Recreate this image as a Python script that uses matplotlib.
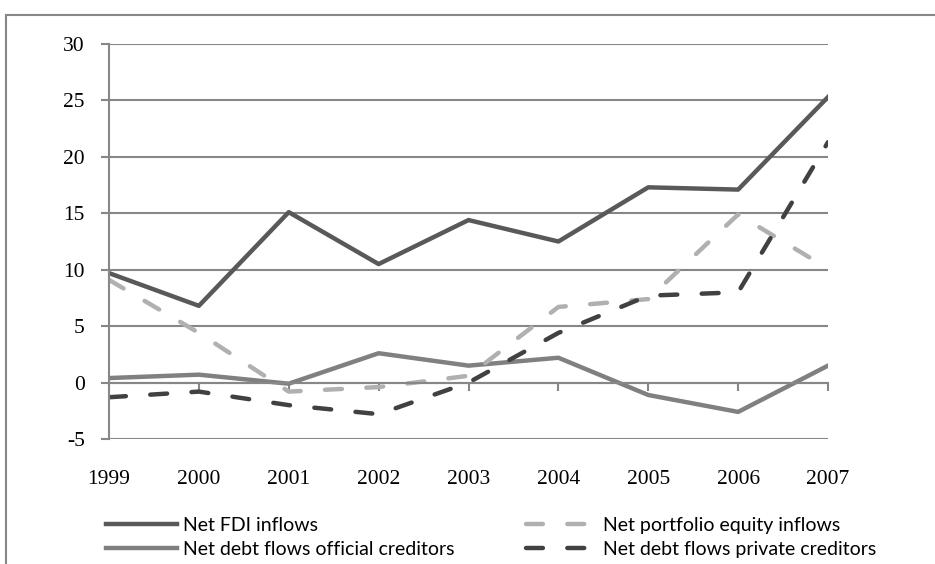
import matplotlib.pyplot as plt
from matplotlib.patches import Rectangle

plt.rcParams['axes.unicode_minus'] = False

years = ['1999', '2000', '2001', '2002', '2003', '2004', '2005', '2006', '2007']
fdi = [9.7, 6.8, 15.1, 10.5, 14.4, 12.5, 17.3, 17.1, 25.3]
official = [0.4, 0.7, -0.1, 2.6, 1.5, 2.2, -1.1, -2.6, 1.5]
portfolio = [9.1, 4.4, -0.8, -0.4, 0.6, 6.7, 7.4, 14.9, 10.1]
private = [-1.3, -0.8, -2.0, -2.8, 0.0, 4.4, 7.7, 8.0, 21.3]

W, H = 935, 564
fig = plt.figure(figsize=(W / 100, H / 100), dpi=100)
ax = fig.add_axes([109 / W, 1 - 439 / H, (828 - 109) / W, (439 - 44) / H])

grid_c = '#878787'
x = range(len(years))
lw = 3.2
dash = (3.8, 5.5)
l1, = ax.plot(x, fdi, color='#595959', lw=lw, label='Net FDI inflows')
l2, = ax.plot(x, official, color='#808080', lw=lw, label='Net debt flows official creditors')
l3, = ax.plot(x, portfolio, color='#b0b0b0', lw=lw, dashes=dash,
              dash_capstyle='round', label='Net portfolio equity inflows')
l4, = ax.plot(x, private, color='#414141', lw=lw, dashes=dash,
              dash_capstyle='round', label='Net debt flows private creditors')

ax.set_xlim(0, len(years) - 1)
ax.set_ylim(-5, 30)
ax.set_yticks(range(-5, 31, 5))
ax.yaxis.grid(True, color=grid_c, lw=1.5)
ax.set_axisbelow(True)
for s in ['top', 'right']:
    ax.spines[s].set_visible(False)
ax.spines['left'].set_color(grid_c)
ax.spines['left'].set_linewidth(1.5)
ax.spines['bottom'].set_position(('data', 0))
ax.spines['bottom'].set_color(grid_c)
ax.spines['bottom'].set_linewidth(1.5)
ax.tick_params(axis='y', length=6, width=1.5, color=grid_c, pad=11.5, labelsize=15.5)
for t in ax.get_yticklabels():
    t.set_fontfamily('Liberation Serif')
ax.set_xticks(list(x))
ax.tick_params(axis='x', length=6, width=1.5, color=grid_c, labelbottom=False)

# year labels sit below the plot, not at the zero line
sec = ax.secondary_xaxis(0.0)
sec.set_xticks(list(x))
sec.set_xticklabels(years, fontfamily='Liberation Serif', fontsize=15.5)
sec.tick_params(length=0, pad=22.5)
sec.spines['bottom'].set_visible(False)

leg_kw = dict(loc='upper left', frameon=False,
              prop={'family': ['Lato', 'DejaVu Sans'], 'size': 14},
              handlelength=3.65, handletextpad=0.3, labelspacing=0.35,
              borderpad=0, borderaxespad=0)
leg1 = fig.legend(handles=[l1, l2], bbox_to_anchor=(106 / W, 1 - 517 / H), **leg_kw)
leg2 = fig.legend(handles=[l3, l4], bbox_to_anchor=(526 / W, 1 - 517 / H), **leg_kw)

fig.patches.append(Rectangle((6 / W, -0.1), 1.2, 1 - 15 / H + 0.1,
                             transform=fig.transFigure, fill=False,
                             edgecolor=grid_c, lw=1.5))

fig.savefig('out.png', dpi=100)
